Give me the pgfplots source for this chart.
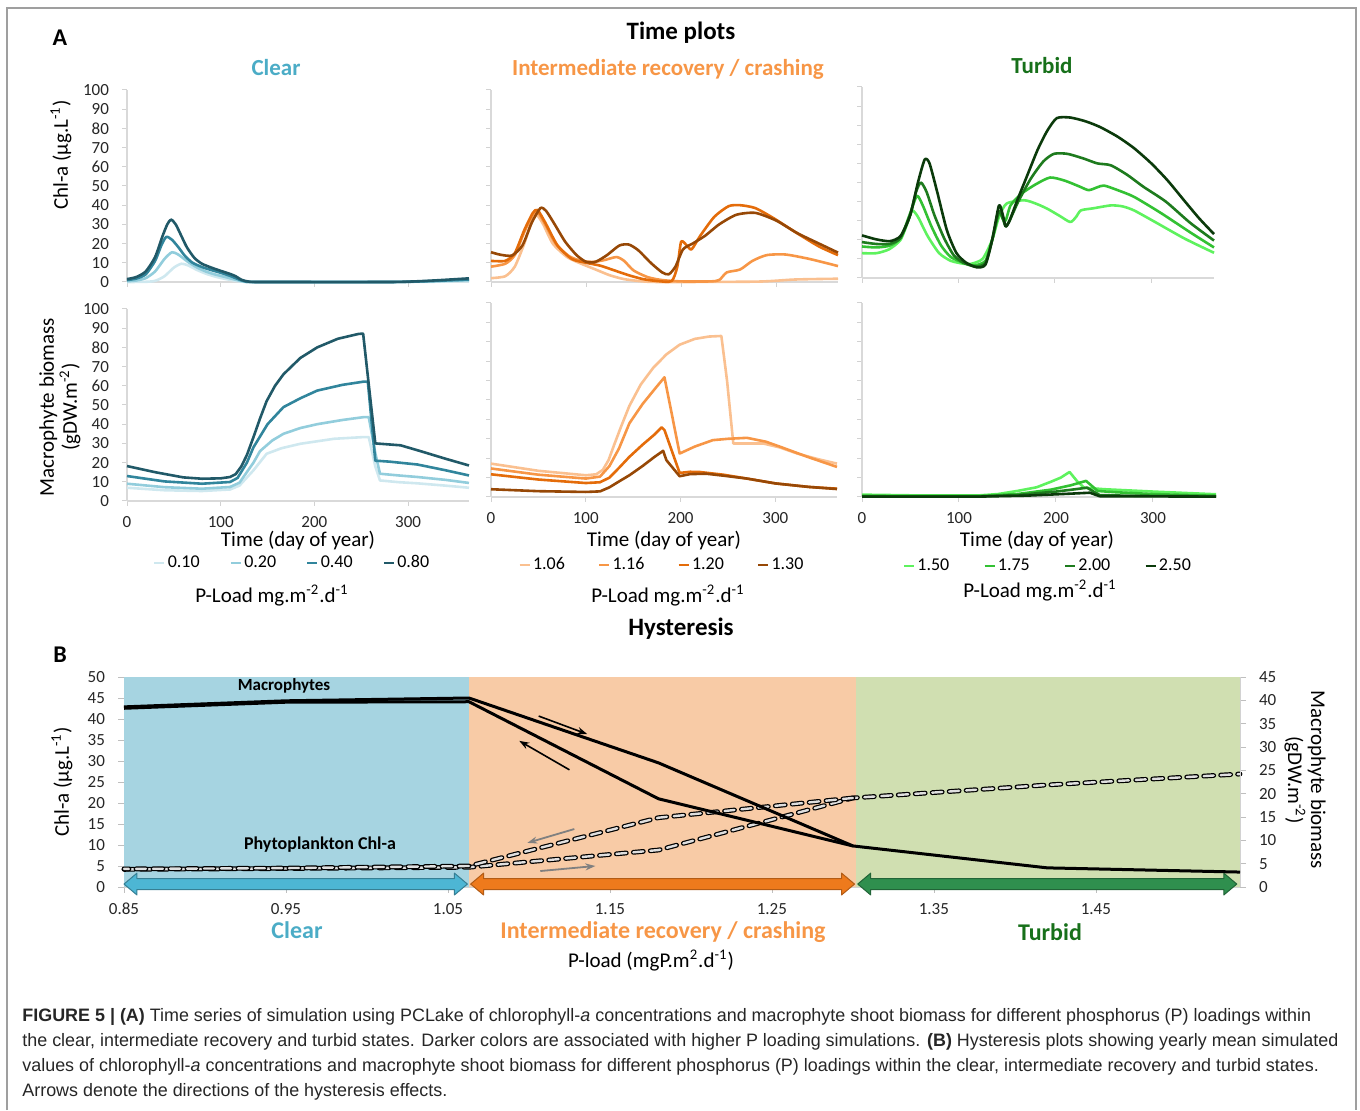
\documentclass[border=0pt]{standalone}
\usepackage{fontspec}
\setmainfont{Carlito}
\newfontfamily\capfont{Liberation Sans}
\usepackage{graphicx}
\usepackage{pgfplots}
\pgfplotsset{compat=1.18}
\usetikzlibrary{arrows.meta}

\definecolor{clearT}{HTML}{4BACC6}
\definecolor{interT}{HTML}{F79646}
\definecolor{turbT}{HTML}{17701A}
\definecolor{cA}{HTML}{CFE8EF}
\definecolor{cB}{HTML}{92CDDC}
\definecolor{cC}{HTML}{31859C}
\definecolor{cD}{HTML}{215968}
\definecolor{oA}{HTML}{FAC090}
\definecolor{oB}{HTML}{F79646}
\definecolor{oC}{HTML}{E46C0A}
\definecolor{oD}{HTML}{974806}
\definecolor{gA}{HTML}{5EF25E}
\definecolor{gB}{HTML}{33C133}
\definecolor{gC}{HTML}{1E7B1E}
\definecolor{gD}{HTML}{0B3A0B}
\definecolor{bgC}{HTML}{A6D4E1}
\definecolor{bgI}{HTML}{F8CBA6}
\definecolor{bgT}{HTML}{D0DFB1}
\definecolor{arC}{HTML}{4DB6D4}
\definecolor{arI}{HTML}{EE7A1C}
\definecolor{arT}{HTML}{2F8F4E}

\pgfplotsset{
  tp/.style={scale only axis, xmin=0, xmax=365, ymin=0, ymax=100, clip=false,
    axis x line*=bottom, axis y line*=left,
    axis line style={draw=gray!30, line width=0.6pt},
    xtick={0,100,200,300}, ytick={0,10,...,100},
    tick style={draw=gray!35, line width=0.5pt}, major tick length=2.5pt, tick align=outside,
    /pgf/number format/assume math mode=true,
    tick label style={font=\fontsize{8.5}{9}\selectfont, text=black!85},
    xticklabel shift=1.5pt, yticklabel shift=3pt,
    every axis plot/.append style={line width=1.3pt, line join=round, no markers}},
  nox/.style={xticklabels={}},
  noy/.style={yticklabels={}},
  sm/.style={smooth, tension=0.4},
  bleg/.style={legend columns=4,
    legend style={draw=none, fill=none, anchor=center, inner xsep=0pt,
      font=\fontsize{9}{9}\selectfont, nodes={inner xsep=1pt},
      /tikz/every even column/.append style={column sep=#1}},
    legend image code/.code={\draw[##1, line width=1.3pt] (0pt,0pt) -- (5pt,0pt);}},
  chl/.style={draw=black, line width=0.6pt, double=gray!25, double distance=1.2pt,
    line cap=round, dash pattern=on 5pt off 3.5pt, no markers},
  mac/.style={black, line width=1.5pt, line join=round, no markers},
  fat/.style={line width=0.5pt, line join=round}
}

\newcommand\capA{\textbf{FIGURE 5 | (A)} Time series of simulation using PCLake of chlorophyll-\textit{a} concentrations and macrophyte shoot biomass for different phosphorus (P) loadings within}
\newcommand\capB{the clear, intermediate recovery and turbid states. Darker colors are associated with higher P loading simulations. \textbf{(B)} Hysteresis plots showing yearly mean simulated}
\newcommand\capC{values of chlorophyll-\textit{a} concentrations and macrophyte shoot biomass for different phosphorus (P) loadings within the clear, intermediate recovery and turbid states.}
\newcommand\capD{Arrows denote the directions of the hysteresis effects.}
\newcommand\capfnt{\capfont\fontsize{9}{9}\selectfont}
\newsavebox\capbox

\begin{document}%
\sbox\capbox{\capfnt\capB}%
\pgfmathsetmacro\capsx{658pt/\wd\capbox}%
\begin{tikzpicture}
\begin{scope}[x=0.5pt,y=-0.5pt]
\path (0,0) rectangle (1360,1110);
\draw[gray!75, line width=1pt] (7,1110) -- (7,8) -- (1356,8) -- (1356,1110);
\coordinate (p1) at (127,282);
\coordinate (p2) at (491,282);
\coordinate (p3) at (862,278);
\coordinate (p4) at (127,501);
\coordinate (p5) at (491,497);
\coordinate (p6) at (862,497);
\coordinate (p7) at (124,887);
\end{scope}

% ---- Clear, Chl-a
\begin{axis}[tp, nox, at={(p1)}, anchor=south west, width=171pt, height=96pt]
\addplot[cA, sm] coordinates {(0,0) (20,0.1) (30,0.6) (40,3) (50,7.5) (58,9.5) (65,8.7) (75,6.2) (85,4.2) (95,2.7) (105,1.6) (115,0.7) (125,0.1) (140,0) (280,0) (320,0.1) (365,0.4)};
\addplot[cB, sm] coordinates {(0,0.4) (10,0.8) (20,2) (30,5.5) (40,12) (48,15.5) (55,14.2) (65,10.5) (75,7.5) (85,5.3) (95,3.8) (105,2.6) (115,1.3) (125,0.2) (140,0) (280,0) (320,0.3) (365,0.9)};
\addplot[cC, sm] coordinates {(0,1) (10,1.8) (20,4) (30,11) (37,19.5) (42,23.5) (48,22) (55,18) (62,13.5) (70,10) (80,7.8) (90,6.2) (100,4.8) (110,3.2) (118,1.6) (126,0.3) (140,0) (280,0) (320,0.4) (365,1.3)};
\addplot[cD, sm] coordinates {(0,1.5) (10,2.6) (20,5.5) (30,13) (38,24) (43,30) (47,32.5) (52,30) (58,24) (64,18) (72,12.5) (80,9.5) (90,7.5) (100,5.8) (110,4.2) (116,3) (122,1.2) (130,0.2) (145,0) (280,0) (320,0.6) (365,1.9)};
\end{axis}

% ---- Intermediate, Chl-a
\begin{axis}[tp, nox, noy, at={(p2)}, anchor=south west, width=173.5pt, height=96pt]
\addplot[oA, sm] coordinates {(0,2) (15,3) (25,8) (35,20) (43,32) (48,35) (55,30) (65,20) (80,13) (95,9.5) (110,6.5) (125,3.5) (140,1.5) (160,0.3) (180,0) (280,0.2) (320,1.3) (365,1.7)};
\addplot[oB, sm] coordinates {(0,8) (15,9.5) (25,14) (35,26) (44,35) (49,36.5) (57,30) (68,20) (82,13.5) (95,11) (108,10.5) (120,11.5) (132,13) (140,11) (150,6) (165,2.5) (180,1) (200,0.3) (230,0.3) (240,1) (248,5) (262,6.5) (275,11) (290,14) (310,14.3) (335,12) (365,8.3)};
\addplot[oC, sm] coordinates {(0,11) (15,11) (25,15) (35,27) (44,36) (49,37.5) (57,31) (70,19) (85,12) (100,10) (115,8.5) (130,6) (145,3.5) (160,1.5) (175,0.5) (190,0.5) (196,8) (200,21) (206,19) (211,17) (220,24) (235,34) (250,39.5) (262,40) (278,38.5) (298,33) (320,26) (345,18.5) (365,14)};
\addplot[oD, sm] coordinates {(0,15.5) (10,14.2) (22,13.8) (33,19) (43,31) (52,38.5) (58,37) (67,30) (78,21) (90,14) (100,10.5) (110,10.5) (122,14) (135,19) (145,19.5) (155,16.5) (168,10) (180,5) (187,4) (194,8) (202,17) (212,20) (225,24) (240,30) (258,35) (278,36) (300,32) (322,25.5) (345,20) (365,15.3)};
\end{axis}

% ---- Turbid, Chl-a
\begin{axis}[tp, nox, noy, at={(p3)}, anchor=south west, width=176pt, height=95.5pt]
\addplot[gA, sm] coordinates {(0,13) (15,13) (28,15) (40,20) (48,30) (52,35.4) (58,32) (68,22) (80,13) (92,9) (105,7.5) (113,7.4) (125,10) (135,20) (142,32) (150,39) (168,40.7) (180,39) (192,36.3) (205,32.5) (216,29.3) (222,32) (227,35.4) (240,36.5) (258,38) (270,37.5) (282,35.4) (305,29) (335,20.5) (365,13.2)};
\addplot[gB, sm] coordinates {(0,16.5) (15,16) (29,17) (40,21) (50,34) (57,43) (63,38) (72,27) (82,17) (92,11) (105,8) (116,6.5) (128,9) (135,20) (142,34) (146,31) (149,30) (154,38) (165,44) (180,49) (195,52.6) (210,51) (225,48) (235,46) (244,47.5) (251,48.4) (265,46) (282,42.5) (310,34) (340,24) (365,16)};
\addplot[gC, sm] coordinates {(0,18.8) (15,17.8) (29,17.9) (40,21) (50,33) (56,45) (61,50) (67,45) (75,33) (85,21) (95,12) (105,8) (118,6) (128,8) (135,20) (142,35) (146,31) (149,27) (153,30) (162,40) (175,52) (188,61) (199,65) (213,65) (230,62.5) (244,60) (258,59) (275,54) (292,47.7) (315,40) (340,29) (365,19.6)};
\addplot[gD, sm] coordinates {(0,22.3) (15,20.2) (29,19.3) (40,22) (50,33) (58,50) (65,62) (70,60) (78,45) (88,25) (98,13) (108,8) (119,5.6) (128,7) (135,20) (142,38) (146,33) (149,27) (153,30) (161,40.7) (170,52) (182,67) (192,77) (202,83.7) (216,84) (232,82) (247,79) (265,74) (282,68) (300,60) (317,51) (335,40) (350,31) (365,23)};
\end{axis}

% ---- Clear, macrophytes
\begin{axis}[tp, bleg=14pt, legend style={at={(0.483,-0.323)}},
  at={(p4)}, anchor=south west, width=171pt, height=96pt]
\addplot[cA] coordinates {(0,6.9) (40,5.6) (80,5.2) (110,6) (120,8) (135,16) (149,24.6) (165,27.5) (185,29.8) (221,32.4) (253,33.3) (258,33.3) (265,18) (270,10.7) (290,9.8) (310,9.2) (340,8) (365,6.9)};
\addplot[cB] coordinates {(0,9) (40,7.2) (80,6.4) (110,7.3) (120,9.5) (135,20) (142,26) (155,31.5) (167,35) (185,38) (203,40) (230,42.2) (253,43.7) (258,43.7) (265,25) (270,14.2) (290,13.3) (310,12.5) (340,11) (365,9.4)};
\addplot[cC] coordinates {(0,13) (40,10.2) (80,9) (110,9.9) (118,12) (128,20) (135,28) (150,40) (167,48.9) (185,53.5) (203,57.5) (230,60.5) (253,62.2) (257,62.2) (265,21) (280,20.5) (310,19) (340,16) (365,13.3)};
\addplot[cD] coordinates {(0,18.2) (30,15) (60,12.3) (80,11.6) (100,11.8) (110,12.5) (116,14) (122,18) (128,24) (135,33.3) (142,43) (149,52) (158,60) (167,66) (185,74.5) (203,80) (225,84.5) (247,87) (252,87.2) (265,30) (292,29) (313,26) (340,22) (365,18.5)};
\legend{0.10,0.20,0.40,0.80}
\end{axis}

% ---- Intermediate, macrophytes
\begin{axis}[tp, noy, bleg=15.5pt, legend style={at={(0.494,-0.35)}},
  at={(p5)}, anchor=south west, width=173pt, height=97pt]
\addplot[oA] coordinates {(0,17.2) (50,13.5) (100,11.2) (111,11.7) (118,14) (124,19) (130,27) (137,36) (146,47) (158,58) (171,66.5) (185,73.5) (199,78.5) (215,81.5) (230,82.7) (243,83) (249,60) (255.6,27.6) (270,27.6) (287,27.6) (305,25.5) (323,22.4) (345,19.5) (365,17.2)};
\addplot[oB] coordinates {(0,14.7) (50,11.5) (100,9.5) (115,10.5) (125,16) (135,25) (146,38) (160,48) (175,57) (183,61.7) (199,22.4) (215,26) (234,29.3) (250,30) (270,30.5) (290,28.5) (305,25.9) (335,20.5) (365,15.5)};
\addplot[oC] coordinates {(0,11.7) (50,9) (100,7.2) (115,7.6) (125,10) (135,15) (146,20.7) (160,27) (172,32) (180,35.9) (183,34.5) (199,12.4) (210,13) (220,12.9) (245,11.5) (270,9.5) (300,7) (335,5.2) (365,4.3)};
\addplot[oD] coordinates {(0,4) (50,3) (100,2.6) (115,2.9) (125,5) (135,8) (146,11.2) (160,16) (172,20.5) (181.6,23.8) (185,19) (199,10.7) (210,11.8) (227,12) (245,11) (270,9.5) (300,7) (335,5.2) (365,4.1)};
\legend{1.06,1.16,1.20,1.30}
\end{axis}

% ---- Turbid, macrophytes
\begin{axis}[tp, noy, bleg=16pt, legend style={at={(0.525,-0.356)}},
  at={(p6)}, anchor=south west, width=177pt, height=97pt]
\addplot[gA] coordinates {(0,1.2) (60,0.8) (120,0.8) (140,1.5) (160,3.1) (180,5) (195,7.9) (205,10) (214,12.9) (222,8) (229,4.8) (250,4) (300,2.8) (365,1.4)};
\addplot[gB] coordinates {(0,0.6) (60,0.5) (120,0.5) (160,1.5) (195,3.8) (215,6) (231,8.3) (243,3.1) (260,2.5) (300,1.5) (365,0.6)};
\addplot[gC] coordinates {(0,0.4) (60,0.3) (120,0.3) (160,1) (200,2.8) (220,4) (232,4.8) (245,1) (270,0.7) (365,0.4)};
\addplot[gD] coordinates {(0,0.2) (120,0.2) (170,0.7) (210,1.6) (235,2.2) (245,0.4) (365,0.2)};
\legend{1.50,1.75,2.00,2.50}
\end{axis}

% ---- Hysteresis, Chl-a (left axis)
\begin{axis}[scale only axis, at={(p7)}, anchor=south west, width=558pt, height=105pt,
  xmin=0.85, xmax=1.539, ymin=0, ymax=50, clip=false,
  axis x line*=bottom, axis y line*=left, axis line style={draw=gray!35},
  xtick={0.85,0.95,1.05,1.15,1.25,1.35,1.45},
  xticklabels={0.85,0.95,1.05,1.15,1.25,1.35,1.45},
  ytick={0,5,...,50}, tick style={draw=gray!50}, tick align=outside, major tick length=3pt,
  /pgf/number format/assume math mode=true,
  tick label style={font=\fontsize{8.5}{9}\selectfont, text=black!85},
  xticklabel shift=1.5pt, yticklabel shift=3pt]
\addplot[fill=bgC, draw=none] coordinates {(0.85,50) (1.063,50)} \closedcycle;
\addplot[fill=bgI, draw=none] coordinates {(1.063,50) (1.302,50)} \closedcycle;
\addplot[fill=bgT, draw=none] coordinates {(1.302,50) (1.539,50)} \closedcycle;
\addplot[fat, fill=arC, draw=arC!70!black] coordinates {(0.85,0.7) (0.858,3.3) (0.858,2.0) (1.054,2.0) (1.054,3.3) (1.062,0.7) (1.054,-1.9) (1.054,-0.6) (0.858,-0.6) (0.858,-1.9)} -- cycle;
\addplot[fat, fill=arI, draw=arI!75!black] coordinates {(1.064,0.7) (1.072,3.3) (1.072,2.0) (1.293,2.0) (1.293,3.3) (1.301,0.7) (1.293,-1.9) (1.293,-0.6) (1.072,-0.6) (1.072,-1.9)} -- cycle;
\addplot[fat, fill=arT, draw=arT!70!black] coordinates {(1.303,0.7) (1.311,3.3) (1.311,2.0) (1.529,2.0) (1.529,3.3) (1.537,0.7) (1.529,-1.9) (1.529,-0.6) (1.311,-0.6) (1.311,-1.9)} -- cycle;
\addplot[chl] coordinates {(0.85,4.2) (0.95,4.4) (1.063,4.7) (1.18,8.8) (1.30,21.2) (1.42,24.3) (1.539,26.9)};
\addplot[chl] coordinates {(1.30,21.2) (1.18,16.5) (1.063,5.0) (0.95,4.5) (0.85,4.3)};
\draw[-{Stealth[length=5pt,width=3.5pt]}, line width=0.8pt] (axis cs:1.106,40.7) -- (axis cs:1.136,36.4);
\draw[-{Stealth[length=5pt,width=3.5pt]}, line width=0.8pt] (axis cs:1.125,27.9) -- (axis cs:1.094,34.8);
\draw[-{Stealth[length=5pt,width=3.5pt]}, line width=0.9pt, gray] (axis cs:1.128,13.8) -- (axis cs:1.099,10.5);
\draw[-{Stealth[length=5pt,width=3.5pt]}, line width=0.9pt, gray] (axis cs:1.107,3.8) -- (axis cs:1.141,5.0);
\end{axis}

% ---- Hysteresis, macrophytes (right axis)
\begin{axis}[scale only axis, at={(p7)}, anchor=south west, width=558pt, height=105pt,
  xmin=0.85, xmax=1.539, ymin=0, ymax=45, clip=false,
  axis x line=none, axis y line*=right, axis line style={draw=gray!35},
  ytick={0,5,...,45}, tick style={draw=gray!50}, tick align=outside, major tick length=3pt,
  /pgf/number format/assume math mode=true,
  tick label style={font=\fontsize{8.5}{9}\selectfont, text=black!85},
  yticklabel shift=3pt]
\addplot[mac] coordinates {(0.85,38.6) (0.95,39.9) (1.063,40.5) (1.18,26.6) (1.30,8.8) (1.42,4.1) (1.539,3.2)};
\addplot[mac] coordinates {(1.30,8.8) (1.18,18.9) (1.063,39.7) (0.95,39.6) (0.85,38.3)};
\end{axis}

% ---- text
\begin{scope}[x=0.5pt,y=-0.5pt]
\node[font=\fontsize{12}{12}\selectfont\bfseries] at (60,38) {A};
\node[font=\fontsize{12.5}{13}\selectfont\bfseries] at (681,33) {Time plots};
\node[font=\fontsize{11.5}{12}\selectfont\bfseries, text=clearT] at (276,68) {Clear};
\node[font=\fontsize{11.5}{12}\selectfont\bfseries, text=interT] at (668,69) {Intermediate recovery / crashing};
\node[font=\fontsize{11.5}{12}\selectfont\bfseries, text=turbT] at (1042,66) {Turbid};
\node[font=\fontsize{10.5}{11.5}\selectfont, rotate=90] at (61,155) {Chl-a (µg.L\textsuperscript{-1})};
\node[font=\fontsize{10.5}{11.5}\selectfont, rotate=90, align=center] at (60,407) {Macrophyte biomass\\(gDW.m\textsuperscript{-2})};
\foreach \xx/\yy in {298/541, 664/541, 1037/541}
  \node[font=\fontsize{10.5}{11}\selectfont] at (\xx,\yy) {Time (day of year)};
\foreach \xx/\yy in {272/596, 668/596, 1040/591}
  \node[font=\fontsize{10.5}{11}\selectfont] at (\xx,\yy) {P-Load mg.m\textsuperscript{-2}.d\textsuperscript{-1}};
% B
\node[font=\fontsize{12}{12}\selectfont\bfseries] at (60,655) {B};
\node[font=\fontsize{12.5}{13}\selectfont\bfseries] at (681,629) {Hysteresis};
\node[font=\fontsize{8.5}{9}\selectfont\bfseries] at (284,686) {Macrophytes};
\node[font=\fontsize{9}{9}\selectfont\bfseries] at (320,845) {Phytoplankton Chl-a};
\node[font=\fontsize{10.5}{11}\selectfont, rotate=90] at (62,782) {Chl-a (µg.L\textsuperscript{-1})};
\node[font=\fontsize{10.5}{11.5}\selectfont, rotate=-90, align=center] at (1305,780) {Macrophyte biomass\\(gDW.m\textsuperscript{-2})};
\node[font=\fontsize{12}{12}\selectfont\bfseries, text=clearT] at (297,930) {Clear};
\node[font=\fontsize{12}{12}\selectfont\bfseries, text=interT] at (663,932) {Intermediate recovery / crashing};
\node[font=\fontsize{12}{12}\selectfont\bfseries, text=turbT] at (1050,932) {Turbid};
\node[font=\fontsize{10.5}{11}\selectfont] at (651,961) {P-load (mgP.m\textsuperscript{2}.d\textsuperscript{-1})};
% caption
\foreach \yy/\tx in {1021/\capA, 1046/\capB, 1071/\capC, 1096/\capD}
  \node[anchor=base west, inner sep=0pt, text=black!85] at (22,\yy) {\scalebox{\capsx}[1]{\capfnt\tx}};
\end{scope}
\end{tikzpicture}%
\end{document}
